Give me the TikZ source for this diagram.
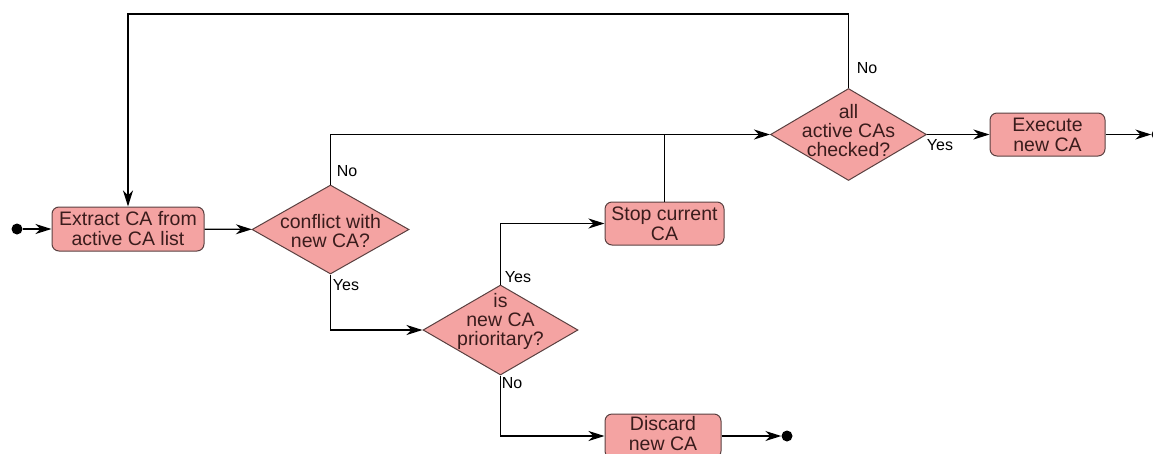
\documentclass[tikz,border=0pt]{standalone}
\usepackage{fontspec}
\setmainfont{Liberation Sans}
\usetikzlibrary{shapes.geometric,arrows.meta,calc}
\definecolor{boxfill}{HTML}{F4A3A2}
\definecolor{boxline}{HTML}{5A4040}
\definecolor{boxtext}{HTML}{3A1C1C}
\begin{document}
\begin{tikzpicture}[x=1pt,y=-1pt,
  action/.style={draw=boxline, fill=boxfill, rounded corners=7pt, line width=1pt,
    text=boxtext, align=center, font=\fontsize{19.5}{20}\selectfont, inner sep=0pt},
  decision/.style={draw=boxline, fill=boxfill, diamond, inner sep=0pt, line width=1pt},
  dtext/.style={text=boxtext, align=center, font=\fontsize{19.5}{19}\selectfont, inner sep=0pt},
  flow/.style={line width=1.3pt, -{Stealth[length=16pt,width=10pt,inset=5pt]}},
  plain/.style={line width=1.3pt},
  tag/.style={font=\fontsize{16}{18}\selectfont, inner sep=0pt},
  dot/.style={circle, fill=black, inner sep=0pt, minimum size=11pt}]
\clip (0,0) rectangle (1153,453);

% terminals
\node[dot] (start) at (17,229) {};
\node[dot] (finish) at (787,436) {};
\node[dot] (exitdot) at (1157,134.5) {};

% actions
\node[action, minimum width=152pt, minimum height=44pt] (extract) at (128,229) {Extract CA from\\active CA list};
\node[action, minimum width=119pt, minimum height=43pt] (stop) at (664.5,223.5) {Stop current\\CA};
\node[action, minimum width=115pt, minimum height=43pt] (execute) at (1047.5,134.5) {Execute\\new CA};
\node[action, minimum width=116pt, minimum height=44pt,
  label={[dtext, font=\fontsize{19.5}{20}\selectfont, yshift=2.5pt]center:{Discard\\new CA}}] (discard) at (663,436) {};

% decisions
\node[decision, minimum width=157pt, minimum height=89pt,
  label={[dtext, yshift=-2pt]center:{conflict with\\new CA?}}] (conflict) at (330.5,229.5) {};
\node[decision, minimum width=155pt, minimum height=90pt,
  label={[dtext, yshift=9pt]center:{is\\new CA\\prioritary?}}] (prio) at (500.5,330) {};
\node[decision, minimum width=156pt, minimum height=92pt,
  label={[dtext, yshift=4pt]center:{all\\active CAs\\checked?}}] (allchk) at (848.5,134.5) {};

% connectors
\draw[flow] (start) -- (extract);
\draw[flow] (extract) -- (conflict);
\draw[flow] (conflict.north) |- (allchk.west);
\draw[plain] (stop.north) -- (stop.north |- allchk.west);
\draw[flow] (allchk.north) -- ++(0,-74) -| (extract.north);
\draw[flow] (allchk.east) -- (execute.west);
\draw[flow] (execute.east) -- (exitdot);
\draw[flow] (conflict.south) |- (prio.west);
\draw[flow] (prio.north) |- (stop.west);
\draw[flow] (prio.south) |- (discard.west);
\draw[flow] (discard.east) -- (finish);

% branch labels
\node[tag] (tnoall) at (867,68) {No};
\node[tag] (tnoconf) at (347,171) {No};
\node[tag] (tyesconf) at (346,285) {Yes};
\node[tag] (tyesprio) at (518,277) {Yes};
\node[tag] (tnoprio) at (512,383) {No};
\node[tag] (tyesall) at (940,145) {Yes};
\end{tikzpicture}
\end{document}
